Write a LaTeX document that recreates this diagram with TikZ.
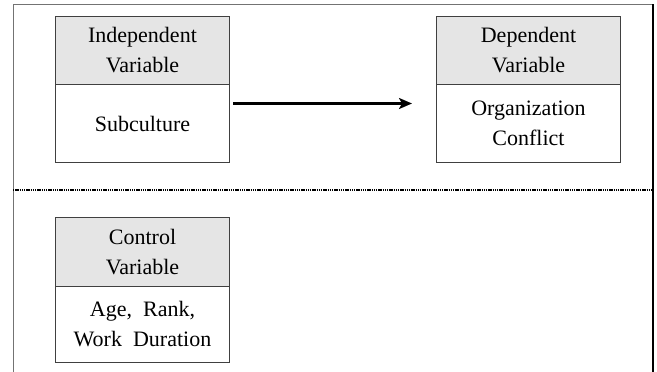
\documentclass[tikz,border=0pt]{standalone}
\usepackage{fontspec}
\setmainfont{Liberation Serif}
\usetikzlibrary{arrows.meta}
\begin{document}
\begin{tikzpicture}[x=1pt,y=-1pt,
  boxbase/.style={draw=black!75, line width=1pt, minimum width=174pt, inner sep=0pt,
    align=center, font=\fontsize{22}{30}\selectfont, anchor=north west},
  hdr/.style={boxbase, fill=black!10},
  bodybox/.style={boxbase, fill=white},
  frame/.style={draw=black!55, line width=0.8pt},
  conn/.style={-{Stealth[length=13pt,width=11pt,inset=3pt]}, line width=2.2pt}]
\useasboundingbox (0,0) rectangle (657,372);
% frame
\coordinate (tl) at (13,4);
\coordinate (tr) at (653,4);
\coordinate (bl) at (13,372);
\coordinate (br) at (653,372);
\coordinate (ml) at (13,190);
\coordinate (mr) at (653,190);
\draw[frame] (bl) -- (tl) -- (tr);
\draw[line width=2pt] (tr) -- (br);
\draw[line width=2pt, dash pattern=on 1.4pt off 0.8pt] (ml) -- (mr);
% boxes
\node[hdr, minimum height=68pt] (ih) at (55,16) {Independent\\Variable};
\node[bodybox, minimum height=78pt] (ib) at (55,84) {Subculture};
\node[hdr, minimum width=184pt, minimum height=68pt] (dh) at (436,16) {Dependent\\Variable};
\node[bodybox, minimum width=184pt, minimum height=78pt] (db) at (436,84) {Organization\\Conflict};
\node[hdr, minimum height=69pt] (ch) at (55,217) {Control\\Variable};
\node[bodybox, minimum height=76pt] (cb) at (55,286) {Age,~ Rank,\\Work~ Duration};
% connector
\draw[conn] ([xshift=3pt,yshift=20pt]ib.east) -- ([xshift=-24pt,yshift=20pt]db.west);
\end{tikzpicture}
\end{document}
